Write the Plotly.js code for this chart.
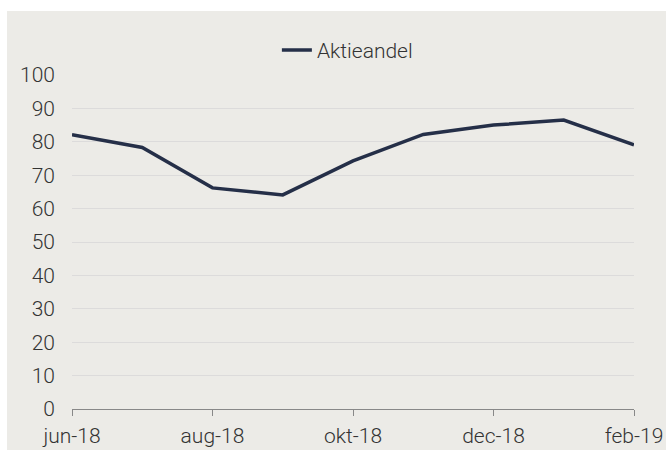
<!DOCTYPE html>
<html>
<head>
<meta charset="utf-8">
<script src="https://cdn.plot.ly/plotly-3.0.1.min.js"></script>
<style>
html,body{margin:0;padding:0;background:#ffffff;width:666px;height:450px;overflow:hidden;}
#chart{position:absolute;left:7px;top:11px;width:659px;height:439px;}
</style>
</head>
<body>
<div id="chart"></div>
<script>
const months = ["jun-18","jul-18","aug-18","sep-18","okt-18","nov-18","dec-18","jan-19","feb-19"];
const aktieandel = [82.1, 78.3, 66.2, 64.1, 74.3, 82.2, 85.0, 86.5, 79.1];
const xTickLabels = ["jun-18","aug-18","okt-18","dec-18","feb-19"];
const seriesName = "Aktieandel";

const trace = {
  x: months,
  y: aktieandel,
  type: "scatter",
  mode: "lines",
  name: seriesName,
  line: {color: "#252f48", width: 3.5}
};

const layout = {
  width: 659,
  height: 439,
  paper_bgcolor: "#ecebe7",
  plot_bgcolor: "#ecebe7",
  margin: {l: 65, r: 32, t: 64, b: 41, autoexpand: false},
  font: {family: "Roboto", size: 21, color: "#333333", weight: 300},
  showlegend: true,
  legend: {
    orientation: "h",
    x: 0.49, xanchor: "center",
    y: 1.074, yanchor: "middle",
    font: {family: "Roboto", size: 21, color: "#333333", weight: 300},
    bgcolor: "rgba(0,0,0,0)"
  },
  xaxis: {
    type: "category",
    range: [0, 8],
    tickmode: "array",
    tickvals: xTickLabels,
    ticktext: xTickLabels,
    showgrid: false,
    showline: true,
    linecolor: "#888888",
    linewidth: 1,
    ticks: "outside",
    ticklen: 6,
    tickcolor: "#888888",
    zeroline: false,
    ticklabelstandoff: 2,
    automargin: false,
    fixedrange: true
  },
  yaxis: {
    range: [0, 100],
    dtick: 10,
    tick0: 0,
    showgrid: true,
    gridcolor: "#dcdbdb",
    gridwidth: 1,
    zeroline: false,
    showline: false,
    ticks: "",
    ticklabelstandoff: 16,
    automargin: false,
    fixedrange: true
  }
};

Plotly.newPlot("chart", [trace], layout, {displayModeBar: false, staticPlot: true});
</script>
</body>
</html>
